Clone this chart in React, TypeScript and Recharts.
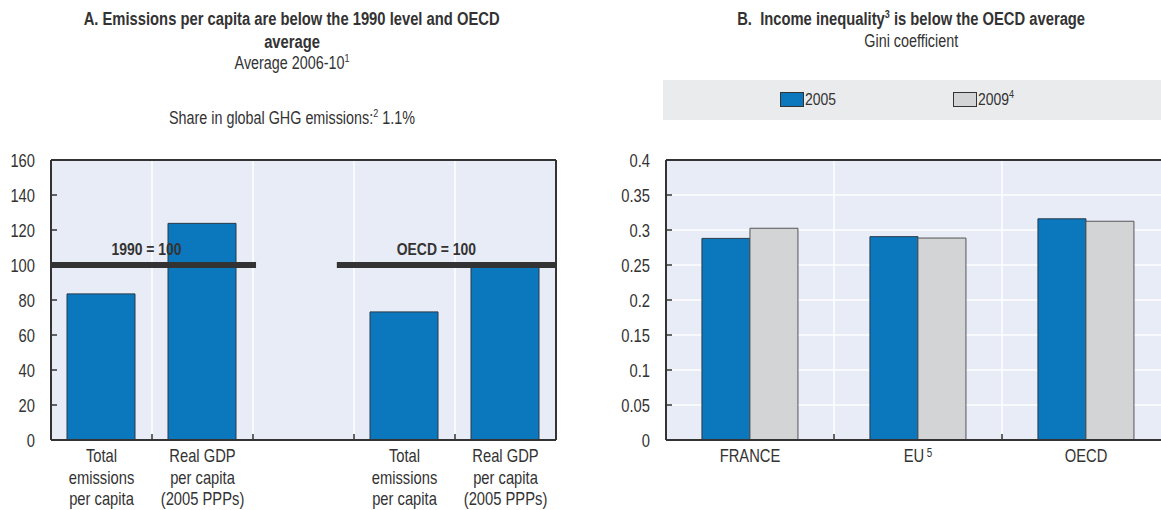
import React from 'react';
import { Bar, BarChart, CartesianGrid, ReferenceLine, XAxis, YAxis } from 'recharts';

// Helvetica Narrow look: Liberation Sans squeezed horizontally
const FONT = '"Liberation Sans", Arial, sans-serif';
const SQUEEZE = 0.82;
const INK = '#333333';
const PLOT_BG = '#E8ECF6';
const BLUE = '#0B77BD';
const GREY = '#D3D4D6';

// Panel A: index, 1990 = 100 (left pair) and OECD = 100 (right pair)
const aSlotLabels = [
    ['Total', 'emissions', 'per capita'],
    ['Real GDP', 'per capita', '(2005 PPPs)'],
    [],
    ['Total', 'emissions', 'per capita'],
    ['Real GDP', 'per capita', '(2005 PPPs)'],
];
const aSlots = [0, 1, 3, 4];
const aValues = [83.5, 123.8, 73.2, 99.5];
const aTicks = [0, 20, 40, 60, 80, 100, 120, 140, 160];
const aRefLines = [
    { label: '1990 = 100', from: 0, to: 2.03, dx: -7 },
    { label: 'OECD = 100', from: 2.83, to: 5, dx: -10 },
];

// Panel B: Gini coefficient
const bCategories = ['FRANCE', 'EU', 'OECD'];
const bNotes = ['', '5', ''];
const b2005 = [0.288, 0.2905, 0.316];
const b2009 = [0.3025, 0.2885, 0.3125];
const bTicks = [0, 0.05, 0.1, 0.15, 0.2, 0.25, 0.3, 0.35, 0.4];

const aData = aSlots.map((s, i) => ({ x: s + 0.5, value: aValues[i] }));
const bData = bCategories.map((c, i) => ({
    name: c,
    v2005: b2005[i],
    v2009: b2009[i],
}));

function SvgText({ x, y, anchor = 'middle', size = 18, weight = 'normal', children }: any) {
    return (
        <text
            transform={`translate(${x} ${y}) scale(${SQUEEZE} 1)`}
            textAnchor={anchor}
            fontFamily={FONT}
            fontSize={size}
            fontWeight={weight}
            fill={INK}
        >
            {children}
        </text>
    );
}

function Narrow({ children, origin = 'center', style }: any) {
    return (
        <span
            style={{
                display: 'inline-block',
                whiteSpace: 'nowrap',
                transform: `scaleX(${SQUEEZE})`,
                transformOrigin: origin,
                ...style,
            }}
        >
            {children}
        </span>
    );
}

const Sup = ({ children }: any) => (
    <span style={{ fontSize: 11, position: 'relative', top: -7, lineHeight: 0 }}>
        {children}
    </span>
);

function LeftTick(props: any) {
    const { x, y, payload } = props;
    const axisX = x + 8;
    return (
        <g>
            <line x1={axisX} x2={axisX + 6} y1={y} y2={y} stroke={INK} strokeWidth={1.5} />
            <SvgText x={x - 8} y={y + 6.5} anchor="end">
                {payload.value}
            </SvgText>
        </g>
    );
}

function RightTick(props: any) {
    const { x, y, payload } = props;
    const axisX = x - 8;
    return (
        <g>
            <line x1={axisX} x2={axisX - 6} y1={y} y2={y} stroke={INK} strokeWidth={1.5} />
            <SvgText x={x + 8} y={y + 6.5} anchor="start">
                {payload.value}
            </SvgText>
        </g>
    );
}

function SlotTick(props: any) {
    const { x, y, payload, width } = props;
    const idx = Math.floor(payload.value);
    const lines = aSlotLabels[idx] || [];
    const slot = width / aSlotLabels.length;
    return (
        <g>
            {idx < aSlotLabels.length - 1 && (
                <line
                    x1={x + slot / 2}
                    x2={x + slot / 2}
                    y1={y - 8}
                    y2={y - 14}
                    stroke={INK}
                    strokeWidth={1.5}
                />
            )}
            {lines.map((l, i) => (
                <SvgText key={i} x={x} y={y + 14 + i * 21.5}>
                    {l}
                </SvgText>
            ))}
        </g>
    );
}

function CountryTick(props: any) {
    const { x, y, payload, index, width } = props;
    const note = bNotes[index];
    const slot = width / bCategories.length;
    return (
        <g>
            {index < bCategories.length - 1 && (
                <line
                    x1={x + slot / 2}
                    x2={x + slot / 2}
                    y1={y - 8}
                    y2={y - 14}
                    stroke={INK}
                    strokeWidth={1.5}
                />
            )}
            <SvgText x={x} y={y + 14}>
                {payload.value}
                {note && (
                    <tspan fontSize={12} dx={3} dy={-5}>
                        {note}
                    </tspan>
                )}
            </SvgText>
        </g>
    );
}

const refLabel = (text: string, dx: number) => (props: any) => {
    const vb = props.viewBox || {};
    return (
        <SvgText x={vb.x + vb.width / 2 + dx} y={vb.y - 10} size={17} weight="bold">
            {text}
        </SvgText>
    );
};

const title: React.CSSProperties = {
    position: 'absolute',
    textAlign: 'center',
    fontSize: 17.5,
    lineHeight: '20px',
    color: INK,
};

export default function App() {
    return (
        <div
            style={{
                position: 'relative',
                width: 1161,
                height: 510,
                overflow: 'hidden',
                background: '#fff',
                fontFamily: FONT,
            }}
        >
            <style>{'html, body { margin: 0; padding: 0; overflow: hidden; }'}</style>
            <div style={{ ...title, left: 0, top: 8, width: 584 }}>
                <div style={{ fontWeight: 'bold', fontSize: 18, lineHeight: '23px' }}>
                    <Narrow>A. Emissions per capita are below the 1990 level and OECD</Narrow>
                    <br />
                    <Narrow>average</Narrow>
                </div>
                <div style={{ lineHeight: '19px' }}>
                    <Narrow>
                        Average 2006-10<Sup>1</Sup>
                    </Narrow>
                </div>
                <div style={{ marginTop: 35 }}>
                    <Narrow>
                        Share in global GHG emissions:<Sup>2</Sup> 1.1%
                    </Narrow>
                </div>
            </div>
            <div style={{ ...title, left: 640, top: 8, width: 542 }}>
                <div style={{ fontWeight: 'bold', fontSize: 18, lineHeight: '23px' }}>
                    <Narrow>
                        B.&nbsp; Income inequality<Sup>3</Sup> is below the OECD average
                    </Narrow>
                </div>
                <div>
                    <Narrow>Gini coefficient</Narrow>
                </div>
            </div>
            <div
                style={{
                    position: 'absolute',
                    left: 663,
                    top: 80,
                    width: 520,
                    height: 40,
                    background: '#EAEBED',
                    fontSize: 17,
                    color: INK,
                }}
            >
                <div style={{ position: 'absolute', left: 117, top: 12, width: 22, height: 13, background: BLUE, border: `1px solid ${INK}` }} />
                <div style={{ position: 'absolute', left: 142, top: 10 }}>
                    <Narrow origin="left">2005</Narrow>
                </div>
                <div style={{ position: 'absolute', left: 290, top: 12, width: 22, height: 13, background: GREY, border: `1px solid ${INK}` }} />
                <div style={{ position: 'absolute', left: 315, top: 10 }}>
                    <Narrow origin="left">
                        2009<Sup>4</Sup>
                    </Narrow>
                </div>
            </div>

            <div style={{ position: 'absolute', left: 0, top: 0 }}>
                <BarChart
                    width={600}
                    height={510}
                    data={aData}
                    margin={{ top: 160, right: 0, bottom: 0, left: 0 }}
                >
                    <CartesianGrid
                        fill={PLOT_BG}
                        stroke="#ffffff"
                        strokeWidth={1.5}
                        verticalCoordinatesGenerator={({ offset }: any) =>
                            [1, 2, 3, 4].map((i) => offset.left + (offset.width * i) / 5)
                        }
                    />
                    <XAxis
                        type="number"
                        dataKey="x"
                        domain={[0, 5]}
                        ticks={[0.5, 1.5, 2.5, 3.5, 4.5]}
                        height={70}
                        tickLine={false}
                        axisLine={{ stroke: INK, strokeWidth: 2 }}
                        tick={<SlotTick />}
                        interval={0}
                    />
                    <YAxis
                        yAxisId="left"
                        width={51}
                        domain={[0, 160]}
                        ticks={aTicks}
                        interval={0}
                        tickLine={false}
                        axisLine={{ stroke: INK, strokeWidth: 2 }}
                        tick={<LeftTick />}
                    />
                    <YAxis
                        yAxisId="right"
                        orientation="right"
                        width={44}
                        domain={[0, 160]}
                        ticks={aTicks}
                        interval={0}
                        tickLine={false}
                        axisLine={{ stroke: INK, strokeWidth: 2 }}
                        tick={<RightTick />}
                    />
                    <ReferenceLine yAxisId="left" y={160} stroke={INK} strokeWidth={2} />
                    <Bar
                        yAxisId="left"
                        dataKey="value"
                        fill={BLUE}
                        stroke="#2B3A4A"
                        strokeWidth={1}
                        barSize={68}
                        isAnimationActive={false}
                    />
                    {aRefLines.map((r) => (
                        <ReferenceLine
                            key={r.label}
                            yAxisId="left"
                            segment={[
                                { x: r.from, y: 100 },
                                { x: r.to, y: 100 },
                            ]}
                            stroke={INK}
                            strokeWidth={6}
                            label={refLabel(r.label, r.dx)}
                        />
                    ))}
                </BarChart>
            </div>

            <div style={{ position: 'absolute', left: 600, top: 0 }}>
                <BarChart
                    width={570}
                    height={510}
                    data={bData}
                    margin={{ top: 160, right: 0, bottom: 0, left: 0 }}
                    barGap={0}
                    barCategoryGap="21.4%"
                >
                    <CartesianGrid
                        fill={PLOT_BG}
                        stroke="#ffffff"
                        strokeWidth={1.5}
                        verticalCoordinatesGenerator={({ offset }: any) =>
                            [1, 2].map((i) => offset.left + (offset.width * i) / 3)
                        }
                    />
                    <XAxis
                        dataKey="name"
                        height={70}
                        tickLine={false}
                        axisLine={{ stroke: INK, strokeWidth: 2 }}
                        tick={<CountryTick />}
                        interval={0}
                    />
                    <YAxis
                        width={66}
                        domain={[0, 0.4]}
                        ticks={bTicks}
                        interval={0}
                        tickLine={false}
                        axisLine={{ stroke: INK, strokeWidth: 2 }}
                        tick={<LeftTick />}
                    />
                    <ReferenceLine y={0.4} stroke={INK} strokeWidth={2} />
                    <Bar
                        dataKey="v2005"
                        name="2005"
                        fill={BLUE}
                        stroke="#2B3A4A"
                        strokeWidth={1}
                        isAnimationActive={false}
                    />
                    <Bar
                        dataKey="v2009"
                        name="2009"
                        fill={GREY}
                        stroke="#555555"
                        strokeWidth={1}
                        isAnimationActive={false}
                    />
                </BarChart>
            </div>
        </div>
    );
}
